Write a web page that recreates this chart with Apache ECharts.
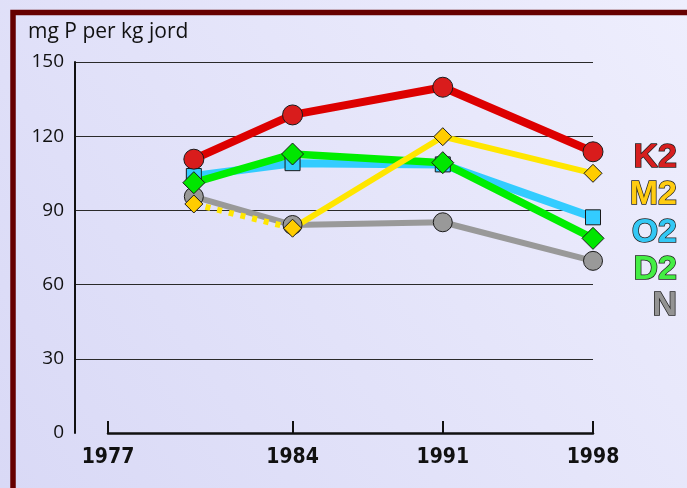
<!DOCTYPE html>
<html>
<head>
<meta charset="utf-8">
<script src="https://cdn.jsdelivr.net/npm/echarts@6/dist/echarts.min.js"></script>
<style>
html,body{margin:0;padding:0;background:#e6e6fa;}
#c{width:687px;height:488px;}
</style>
</head>
<body>
<div id="c"></div>
<script>
// ---- data ----
var axisStart = 1975.4;               // left end of the drawn x axis
var tickValues = [axisStart, 1984, 1991, 1998];
var tickLabels = ['1977', '1984', '1991', '1998'];
var sampleX = [1979.4, 1984, 1991, 1998];
var seriesNames = ['K2', 'M2', 'O2', 'D2', 'N'];
var k2 = [110.7, 128.6, 139.8, 113.7];
var m2 = [92.6, 82.8, 119.8, 105.0];
var o2 = [103.9, 109.1, 108.6, 87.2];
var d2 = [101.2, 112.8, 109.3, 78.7];
var n  = [95.6, 84.1, 85.2, 69.6];
var yTicks = [0, 30, 60, 90, 120, 150];
var yTitle = 'mg P per kg jord';

function pts(vals, keep) {
  return sampleX.map(function (x, i) {
    return (keep && keep.indexOf(i) < 0) ? [x, null] : [x, vals[i]];
  });
}

var chart = echarts.init(document.getElementById('c'), null, {renderer: 'canvas'});

var numFont = "'Open Sans', 'Noto Sans', sans-serif";
var yearFont = "'DejaVu Sans Condensed', 'DejaVu Sans', sans-serif";
var legFont = "'Liberation Sans', Arial, sans-serif";

function lineSeries(name, vals, opt) {
  return {
    name: name, type: 'line', xAxisIndex: 1, yAxisIndex: 1,
    data: pts(vals, opt.keep),
    symbol: opt.symbol, symbolSize: opt.size,
    showSymbol: opt.showSymbol !== false,
    connectNulls: false,
    lineStyle: {color: opt.line, width: opt.width, type: opt.type || 'solid', cap: opt.cap || 'round', join: 'round'},
    itemStyle: {color: opt.fill, borderColor: '#1a1a1a', borderWidth: 1},
    emphasis: {disabled: true},
    animation: false,
    z: opt.z || 2
  };
}

var legendColors = ['#d61f1f', '#ffcc11', '#33c8f5', '#44ee44', '#939393'];
var legendY = [157.5, 195, 232.5, 269.5, 306];
var legendGraphics = seriesNames.map(function (nm, i) {
  return {
    type: 'text',
    style: {
      text: nm, x: 677, y: legendY[i],
      align: 'right', verticalAlign: 'middle',
      font: 'bold 34px ' + legFont,
      fill: legendColors[i], stroke: '#222', lineWidth: 1.5
    },
    z: 10
  };
});

var option = {
  backgroundColor: {
    type: 'linear', x: 0, y: 1, x2: 1, y2: 0,
    colorStops: [{offset: 0, color: '#d9d9f6'}, {offset: 1, color: '#eeeefd'}]
  },
  animation: false,
  grid: [
    {left: 75, right: 94, top: 62, bottom: 55},
    {left: 108, right: 94, top: 62, bottom: 55}
  ],
  xAxis: [
    {type: 'value', gridIndex: 0, show: false, min: 0, max: 1},
    {
      type: 'value', gridIndex: 1, min: axisStart, max: 1998,
      axisLine: {show: true, onZero: false, lineStyle: {color: '#111', width: 2.5}},
      axisTick: {show: true, inside: true, length: 12, customValues: tickValues, lineStyle: {color: '#111', width: 2}},
      axisLabel: {
        show: true, customValues: tickValues, margin: 14,
        formatter: function (v) {
          var best = 0, d = Infinity;
          tickValues.forEach(function (t, i) { if (Math.abs(t - v) < d) { d = Math.abs(t - v); best = i; } });
          return tickLabels[best];
        },
        color: '#111', fontSize: 21, fontWeight: 'bold', fontFamily: yearFont
      },
      splitLine: {show: false}
    }
  ],
  yAxis: [
    {
      type: 'value', gridIndex: 0, min: yTicks[0], max: yTicks[yTicks.length - 1], interval: 30,
      axisLine: {show: true, lineStyle: {color: '#111', width: 2}},
      axisTick: {show: false},
      axisLabel: {color: '#111', fontSize: 19, fontFamily: numFont, margin: 11},
      splitLine: {show: true, showMinLine: false, lineStyle: {color: '#2a2a2a', width: 1}}
    },
    {type: 'value', gridIndex: 1, min: 0, max: 150, show: false}
  ],
  graphic: [
    {
      type: 'rect', shape: {x: 13, y: 12.5, width: 720, height: 520},
      style: {fill: null, stroke: '#660000', lineWidth: 5.5}, z: 0
    },
    {
      type: 'text',
      style: {text: yTitle, x: 28, y: 32, verticalAlign: 'middle', font: '21px ' + numFont, fill: '#111'},
      z: 10
    }
  ].concat(legendGraphics),
  series: [
    lineSeries('N', n, {symbol: 'circle', size: 19, line: '#999999', fill: '#999999', width: 6}),
    lineSeries('O2', o2, {symbol: 'rect', size: 15, line: '#33ccff', fill: '#33ccff', width: 8}),
    lineSeries('D2', d2, {symbol: 'diamond', size: 22, line: '#00ee00', fill: '#00e600', width: 7.5}),
    lineSeries('M2', m2, {keep: [0, 1], symbol: 'diamond', size: 18, showSymbol: false, line: '#ffe600', fill: '#ffcc00', width: 6, type: [5, 7], cap: 'butt'}),
    lineSeries('M2', m2, {symbol: 'diamond', size: 18, line: '#ffe600', fill: '#ffcc00', width: 6, keep: [1, 2, 3]}),
    lineSeries('M2', m2, {keep: [0], symbol: 'diamond', size: 18, line: '#ffe600', fill: '#ffcc00', width: 6}),
    lineSeries('K2', k2, {symbol: 'circle', size: 20, line: '#dd0000', fill: '#d91c1c', width: 8})
  ]
};
chart.setOption(option);
</script>
</body>
</html>
